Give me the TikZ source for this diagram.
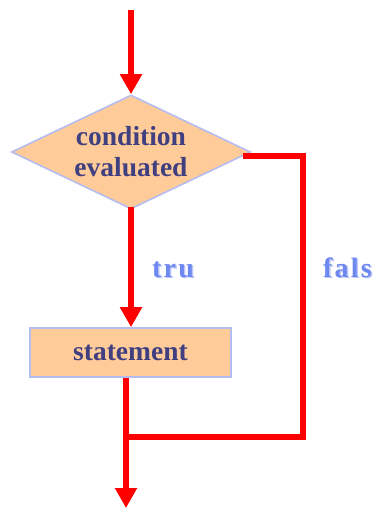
\documentclass[tikz,border=0pt]{standalone}
\usepackage{fontspec}
\setmainfont{Liberation Serif}
\usetikzlibrary{shapes.geometric,arrows.meta}
\definecolor{peach}{HTML}{FFCC99}
\definecolor{lavender}{HTML}{B4BCF0}
\definecolor{ink}{HTML}{404080}
\definecolor{label}{HTML}{6E88F2}
\definecolor{labelshade}{HTML}{BFC8F6}
\definecolor{red}{HTML}{FF0000}

\begin{document}
\begin{tikzpicture}[x=1pt,y=-1pt,
    every node/.style={font=\bfseries\fontsize{27.5}{31}\selectfont,text=ink},
    box/.style={fill=peach,draw=lavender,line width=1.6pt},
    flow/.style={draw=red,line width=6pt},
    flowarrow/.style={flow,-{Triangle[width=21pt,length=20pt]}},
    lbl/.style={anchor=base,text=label,
      font=\bfseries\fontsize{28}{30}\selectfont\addfontfeatures{LetterSpace=8}}]
      \useasboundingbox (0,0) rectangle (373,508);
      \node[box,diamond,aspect=2.1,minimum width=239pt,minimum height=114pt,
        inner sep=0pt,align=center] (cond) at (131,152) {condition\\evaluated};
      \node[box,minimum width=201pt,minimum height=49pt,inner sep=0pt]
        (stmt) at (130.5,352.5) {statement};
      \coordinate (entry) at (131,10);
      \coordinate (corner) at (303,437);
      \coordinate (join) at (126,437);
      \coordinate (exit) at (126,508);
      % labels with a light shadow
      \node[lbl,text=labelshade] at (174.5,278.5) {tru};
      \node[lbl] (tru) at (173,277) {tru};
      \node[lbl,text=labelshade] at (349,278.5) {fals};
      \node[lbl] (fals) at (347.5,277) {fals};
      % connectors
      \draw[flowarrow] (entry) -- (cond.north);
      \draw[flowarrow] ([yshift=3pt]cond.south) -- (stmt.north -| cond.south);
      \draw[flow,line cap=rect] ([shift={(-5,4)}]cond.east) -| (corner) -- (join);
      \draw[flowarrow] (stmt.south -| join) -- (exit);
\end{tikzpicture}
\end{document}
